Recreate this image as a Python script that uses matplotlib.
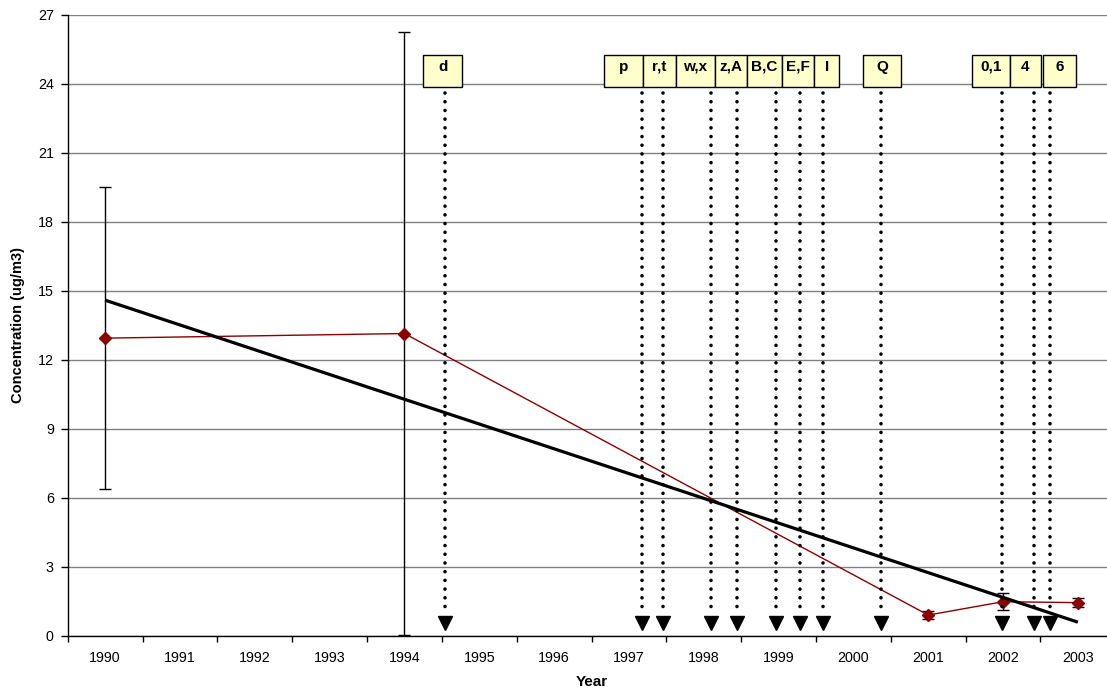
import matplotlib
matplotlib.use('Agg')
import matplotlib.pyplot as plt
from matplotlib.patches import Rectangle

plt.rcParams['font.family'] = ['Liberation Sans', 'DejaVu Sans']
plt.rcParams['font.size'] = 10.3

years = ['1990', '1991', '1992', '1993', '1994', '1995', '1996', '1997',
         '1998', '1999', '2000', '2001', '2002', '2003']
obs_years = ['1990', '1994', '2001', '2002', '2003']
conc = [12.95, 13.15, 0.91, 1.49, 1.45]
conc_err = [6.55, 13.1, 0.16, 0.37, 0.2]
trend_years = ['1990', '2003']
trend_vals = [14.6, 0.6]

# event markers (position on the category axis) and their labels
event_pos = [4.54, 7.18, 7.45, 8.10, 8.44, 8.97, 9.29, 9.59, 10.37, 11.98, 12.41, 12.63]
event_lab = ['d', 'p', 'r,t', 'w,x', 'z,A', 'B,C', 'E,F', 'I', 'Q', '0,1', '4', '6']
# label boxes (left, right) on the category axis
box_lr = [(4.252, 4.773), (6.663, 7.192), (7.192, 7.625), (7.625, 8.150),
          (8.150, 8.574), (8.574, 9.050), (9.050, 9.477), (9.477, 9.811),
          (10.124, 10.636), (11.581, 12.093), (12.093, 12.503), (12.538, 12.971)]

xi = {y: i for i, y in enumerate(years)}

fig = plt.figure(figsize=(11.07, 6.94), dpi=100)
ax = fig.add_axes([0.0612, 0.0836, 0.9463, 0.8948])

ax.set_xlim(-0.5, len(years) - 0.5)
ax.set_ylim(0, 27)
ax.set_yticks(range(0, 28, 3))
ax.yaxis.grid(True, color='#808080', linewidth=1.0)
ax.set_axisbelow(True)
for s in ['top', 'right']:
    ax.spines[s].set_visible(False)
for s in ['left', 'bottom']:
    ax.spines[s].set_linewidth(1.0)
    ax.spines[s].set_zorder(3)

ax.set_xticks(range(len(years)))
ax.set_xticklabels(years)
ax.set_xticks([i - 0.5 for i in range(len(years) + 1)], minor=True)
ax.tick_params(axis='x', which='major', length=0, pad=11)
ax.tick_params(axis='x', which='minor', length=4.5, width=1.0)
ax.tick_params(axis='y', length=5, width=1.0, pad=5)

xo = [xi[y] for y in obs_years]
ax.errorbar(xo, conc, yerr=conc_err, fmt='none', ecolor='black', elinewidth=1.0,
            capsize=4, capthick=1.0, zorder=4)
ax.plot(xo, conc, color='#8B0000', lw=1.0, marker='D', markersize=6.5, zorder=5)

ax.plot([xi[y] for y in trend_years], trend_vals, color='black', lw=2.3,
        solid_capstyle='butt', zorder=6)

for x, lab, (l, r) in zip(event_pos, event_lab, box_lr):
    ax.plot([x, x], [23.6, 0.9], color='black', lw=2.6, linestyle=(0, (0.01, 2.4)),
            dash_capstyle='round', zorder=7)
    ax.plot([x], [0.57], marker='v', color='black', markersize=9.6, zorder=7)
    ax.add_patch(Rectangle((l, 23.88), r - l, 1.38, facecolor='#FFFFCC',
                           edgecolor='black', lw=1.0, zorder=8))
    ax.text((l + r) / 2, 24.75, lab, ha='center', va='center',
            fontweight='bold', fontsize=11, zorder=9)

ax.set_xlabel('Year', fontweight='bold', fontsize=11, labelpad=7)
ax.set_ylabel('Concentration (ug/m3)', fontweight='bold', fontsize=10.5, labelpad=9)

fig.savefig('out.png', dpi=100)
